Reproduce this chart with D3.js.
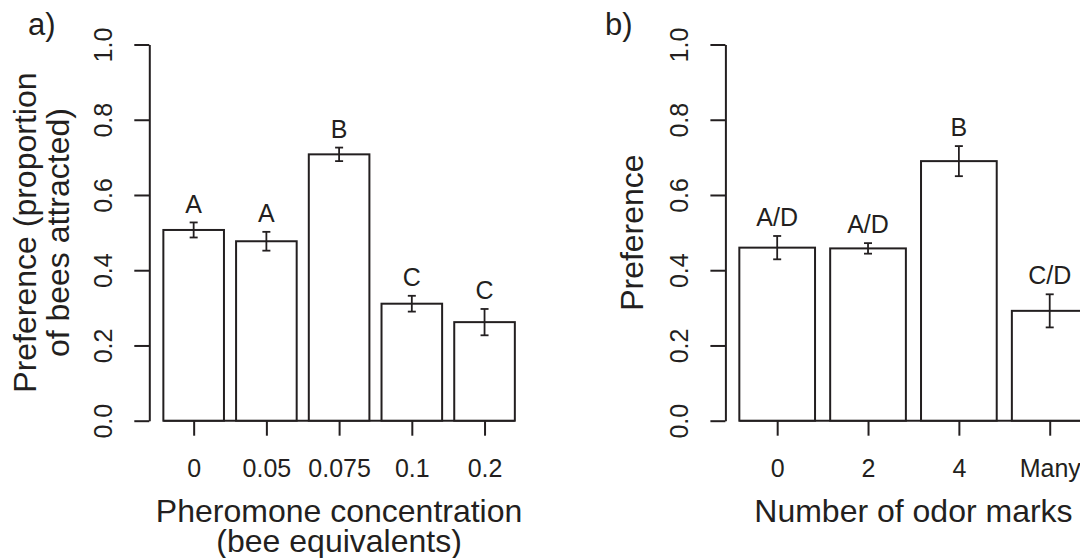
<!DOCTYPE html>
<html>
<head>
<meta charset="utf-8">
<script src="https://cdn.jsdelivr.net/npm/d3@7"></script>
<style>
html,body{margin:0;padding:0;background:#fff;}
svg{display:block;}
text{font-family:"Liberation Sans",Arial,Helvetica,sans-serif;fill:#231f20;}
</style>
</head>
<body>
<svg id="chart" width="1080" height="558"></svg>
<script>
// ---- data ----
const catsA = ["0", "0.05", "0.075", "0.1", "0.2"];
const meanA = [0.507, 0.477, 0.708, 0.311, 0.262];
const seA = [0.020, 0.025, 0.018, 0.021, 0.035];
const lettersA = ["A", "A", "B", "C", "C"];

const catsB = ["0", "2", "4", "Many"];
const meanB = [0.460, 0.458, 0.690, 0.292];
const seB = [0.031, 0.014, 0.040, 0.044];
const lettersB = ["A/D", "A/D", "B", "C/D"];

const yTicks = [0, 0.2, 0.4, 0.6, 0.8, 1.0];

// ---- drawing ----
const svg = d3.select("#chart");
const ink = "#231f20";
const y = d3.scaleLinear().domain([0, 1]).range([420.7, 44.5]);

function panel(opts) {
  const {cats, means, ses, letters, left, right, tag, tagX, yTitleLines, yTitleX, xTitleLines} = opts;
  const n = cats.length;
  const lo = 0.2, hi = 1.2 * n;
  const ext = (hi - lo) * 0.04;
  const x = d3.scaleLinear().domain([lo - ext, hi + ext]).range([left, right]);
  const g = svg.append("g");
  const centers = cats.map((c, i) => 0.2 + 1.2 * i + 0.5);

  // baseline
  g.append("line")
    .attr("x1", x(0.2)).attr("x2", x(hi))
    .attr("y1", y(0)).attr("y2", y(0))
    .attr("stroke", ink).attr("stroke-width", 2);

  // bars
  g.selectAll("rect.bar").data(means).join("rect")
    .attr("class", "bar")
    .attr("x", (d, i) => x(0.2 + 1.2 * i))
    .attr("width", (d, i) => x(1.2 + 1.2 * i) - x(0.2 + 1.2 * i))
    .attr("y", d => y(d))
    .attr("height", d => y(0) - y(d))
    .attr("fill", "#fff").attr("stroke", ink).attr("stroke-width", 2);

  // error bars
  const eb = g.selectAll("g.eb").data(means).join("g").attr("class", "eb");
  eb.append("line")
    .attr("x1", (d, i) => x(centers[i])).attr("x2", (d, i) => x(centers[i]))
    .attr("y1", (d, i) => y(d - ses[i])).attr("y2", (d, i) => y(d + ses[i]))
    .attr("stroke", ink).attr("stroke-width", 1.8);
  [-1, 1].forEach(s => {
    eb.append("line")
      .attr("x1", (d, i) => x(centers[i]) - 4).attr("x2", (d, i) => x(centers[i]) + 4)
      .attr("y1", (d, i) => y(d + s * ses[i])).attr("y2", (d, i) => y(d + s * ses[i]))
      .attr("stroke", ink).attr("stroke-width", 1.8);
  });

  // letters
  g.selectAll("text.let").data(means).join("text")
    .attr("class", "let")
    .attr("x", (d, i) => x(centers[i]))
    .attr("y", (d, i) => y(d + ses[i] + 0.05))
    .attr("dy", "0.36em")
    .attr("text-anchor", "middle")
    .attr("font-size", 25)
    .text((d, i) => letters[i]);

  // y axis
  const yAxis = d3.axisLeft(y).tickValues(yTicks).tickSize(15).tickSizeOuter(0).tickFormat(d3.format(".1f"));
  const ya = g.append("g").attr("transform", `translate(${left},0)`).call(yAxis);
  ya.select(".domain").attr("stroke", ink).attr("stroke-width", 2);
  ya.selectAll(".tick line").attr("stroke", ink).attr("stroke-width", 2);
  ya.selectAll(".tick text")
    .attr("x", null).attr("dy", null)
    .attr("transform", "translate(-46,0) rotate(-90)")
    .attr("text-anchor", "middle")
    .attr("dy", "0.36em")
    .attr("font-size", 25)
    .attr("fill", ink);

  // x axis ticks
  const xAxis = d3.axisBottom(x).tickValues(centers).tickSize(15).tickSizeOuter(0)
    .tickFormat((d, i) => cats[i]);
  const xa = g.append("g").attr("transform", `translate(0,${y(0)})`).call(xAxis);
  xa.select(".domain").remove();
  xa.selectAll(".tick line").attr("stroke", ink).attr("stroke-width", 2);
  xa.selectAll(".tick text")
    .attr("y", 56).attr("dy", null)
    .attr("font-size", 25)
    .attr("fill", ink);

  // x title
  const cx = (left + right) / 2;
  xTitleLines.forEach((t, k) => {
    g.append("text").attr("x", cx).attr("y", 522 + k * 30)
      .attr("text-anchor", "middle").attr("font-size", 32).text(t);
  });

  // y title
  const cy = (y(0) + y(1)) / 2;
  yTitleLines.forEach((t, k) => {
    g.append("text")
      .attr("transform", `translate(${yTitleX[k]},${cy}) rotate(-90)`)
      .attr("text-anchor", "middle").attr("font-size", 32).text(t);
  });

  // panel tag
  g.append("text").attr("x", tagX).attr("y", 35).attr("font-size", 31).text(tag);
}

panel({
  cats: catsA, means: meanA, ses: seA, letters: lettersA,
  left: 149.3, right: 528.9, tag: "a)", tagX: 28,
  yTitleLines: ["Preference (proportion", "of bees attracted)"], yTitleX: [36, 69],
  xTitleLines: ["Pheromone concentration", "(bee equivalents)"]
});

panel({
  cats: catsB, means: meanB, ses: seB, letters: lettersB,
  left: 725.4, right: 1101.5, tag: "b)", tagX: 605,
  yTitleLines: ["Preference"], yTitleX: [643],
  xTitleLines: ["Number of odor marks"]
});
</script>
</body>
</html>
